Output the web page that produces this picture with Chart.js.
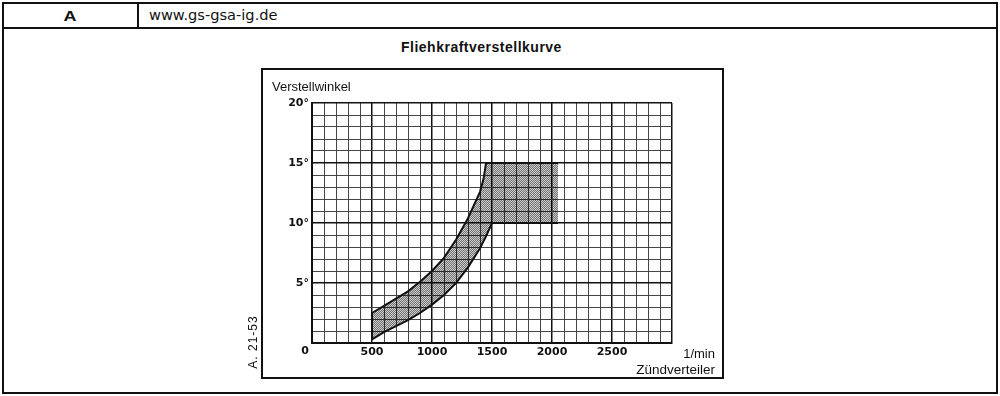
<!DOCTYPE html>
<html>
<head>
<meta charset="utf-8">
<script src="https://cdn.jsdelivr.net/npm/chart.js@4.4.1/dist/chart.umd.min.js"></script>
<style>
  html, body { margin: 0; padding: 0; background: #fff; }
  body { width: 1000px; height: 396px; position: relative; overflow: hidden; font-family: "Liberation Sans", Arial, sans-serif; color: #111; }
  .t { position: absolute; white-space: nowrap; line-height: 1; }
  .ln { position: absolute; background: #111; }
  #frame { position: absolute; left: 2px; top: 2px; width: 996px; height: 392px; border: 2px solid #111; box-sizing: border-box; }
  #box { position: absolute; left: 261px; top: 68px; width: 463px; height: 311px; border: 2px solid #111; box-sizing: border-box; }
  #wrap { position: absolute; left: 261px; top: 68px; width: 463px; height: 311px; }
</style>
</head>
<body>
<div id="frame"></div>
<div class="ln" style="left:2px; top:27px; width:996px; height:2px"></div>
<div class="ln" style="left:137px; top:2px; width:2px; height:26px"></div>
<div class="t" style="left:3px; width:134px; top:8px; text-align:center; font-weight:bold; font-size:15px; transform:scaleX(1.2)">A</div>
<div class="t" style="left:149px; top:8px; font-family:'DejaVu Sans', sans-serif; font-size:14.6px">www.gs-gsa-ig.de</div>
<div class="t" style="left:401px; top:40px; font-weight:bold; font-size:14px; letter-spacing:0.5px">Fliehkraftverstellkurve</div>

<div id="wrap"><canvas id="chart" width="463" height="311"></canvas></div>
<div id="box"></div>

<div class="t" style="left:272px; top:80px; font-size:13px">Verstellwinkel</div>
<div class="t" style="right:285px; top:347px; font-size:13px">1/min</div>
<div class="t" style="right:285px; top:363px; font-size:13.5px">Zündverteiler</div>
<div class="t" style="left:226px; top:336px; width:54px; text-align:center; font-size:12px; letter-spacing:1px; transform:rotate(-90deg)">A. 21-53</div>

<script>
// Drehzahl (1/min) und Verstellwinkel (Grad) der beiden Grenzkurven
const upperRpm = [500, 600, 700, 800, 900, 1000, 1100, 1200, 1300, 1350, 1400, 1430, 1450];
const upperDeg = [2.5, 3.1, 3.7, 4.3, 5.1, 6.0, 7.1, 8.6, 10.4, 11.5, 12.6, 13.7, 15.0];
const lowerRpm = [500, 600, 700, 800, 900, 1000, 1100, 1200, 1300, 1400, 1450, 1500];
const lowerDeg = [0.3, 0.9, 1.4, 1.9, 2.5, 3.2, 4.0, 5.0, 6.3, 7.9, 8.9, 10.0];
const plateauEndRpm = 2050;
const plateauLowDeg = 10;
const plateauHighDeg = 15;

// Achsen
const rpmMin = 0, rpmMax = 3000, rpmStep = 100;
const degMin = 0, degMax = 20, degStep = 1;
const rpmLabels = [500, 1000, 1500, 2000, 2500];
const degLabels = [5, 10, 15, 20];

const lowerLine = lowerRpm.map((r, i) => ({ x: r, y: lowerDeg[i] }));
lowerLine.push({ x: plateauEndRpm, y: plateauLowDeg });
const upperLine = upperRpm.map((r, i) => ({ x: r, y: upperDeg[i] }));
upperLine.push({ x: plateauEndRpm, y: plateauHighDeg });
const leftEdge = [{ x: lowerRpm[0], y: lowerDeg[0] }, { x: upperRpm[0], y: upperDeg[0] }];

// Raster-Muster wie im Druck
function makePattern() {
    const c = document.createElement('canvas');
    c.width = 2; c.height = 2;
    const g = c.getContext('2d');
    g.fillStyle = 'rgba(0,0,0,0.55)';
    g.fillRect(0, 0, 1, 1); g.fillRect(1, 1, 1, 1);
    g.fillStyle = 'rgba(0,0,0,0.2)';
    g.fillRect(1, 0, 1, 1); g.fillRect(0, 1, 1, 1);
    return g.createPattern(c, 'repeat');
}

const tickFont = { family: 'DejaVu Sans', weight: 'bold', size: 11 };
const isMajor = (ctx, step) => ctx.tick && ctx.tick.value % step === 0;

const zeroLabel = {
    id: 'zeroLabel',
    afterDraw(chart) {
        const { ctx, scales } = chart;
        ctx.save();
        ctx.font = 'bold 11px "DejaVu Sans"';
        ctx.fillStyle = '#111';
        ctx.textAlign = 'center';
        ctx.textBaseline = 'middle';
        ctx.fillText('0', scales.x.getPixelForValue(0) - 7, scales.y.bottom + 8);
        ctx.restore();
    }
};

const curve = { borderColor: '#111', borderWidth: 2, tension: 0, pointRadius: 0 };

new Chart(document.getElementById('chart').getContext('2d'), {
    type: 'line',
    data: {
        datasets: [
            { ...curve, data: lowerLine, fill: false },
            { ...curve, data: upperLine, fill: '-1', backgroundColor: makePattern() },
            { ...curve, data: leftEdge, fill: false }
        ]
    },
    options: {
        responsive: false,
        animation: false,
        layout: { padding: { top: 35, right: 52, left: 0, bottom: 0 } },
        plugins: { legend: { display: false }, tooltip: { enabled: false } },
        scales: {
            x: {
                type: 'linear', min: rpmMin, max: rpmMax,
                border: { color: '#111', width: 2 },
                grid: {
                    drawTicks: false,
                    color: ctx => isMajor(ctx, 500) ? '#111' : '#444',
                    lineWidth: ctx => isMajor(ctx, 500) ? 1.5 : 1
                },
                ticks: {
                    stepSize: rpmStep, autoSkip: false, maxRotation: 0, padding: 3,
                    color: '#111', font: tickFont,
                    callback: v => rpmLabels.includes(v) ? String(v) : ''
                },
                afterFit: s => { s.height = 36; }
            },
            y: {
                type: 'linear', min: degMin, max: degMax,
                border: { color: '#111', width: 2 },
                grid: {
                    drawTicks: false,
                    color: ctx => isMajor(ctx, 5) ? '#111' : '#444',
                    lineWidth: ctx => isMajor(ctx, 5) ? 1.5 : 1
                },
                ticks: {
                    stepSize: degStep, autoSkip: false, padding: 3,
                    color: '#111', font: tickFont,
                    callback: v => degLabels.includes(v) ? v + '°' : ''
                },
                afterFit: s => { s.width = 51; }
            }
        }
    },
    plugins: [zeroLabel]
});
</script>
</body>
</html>
